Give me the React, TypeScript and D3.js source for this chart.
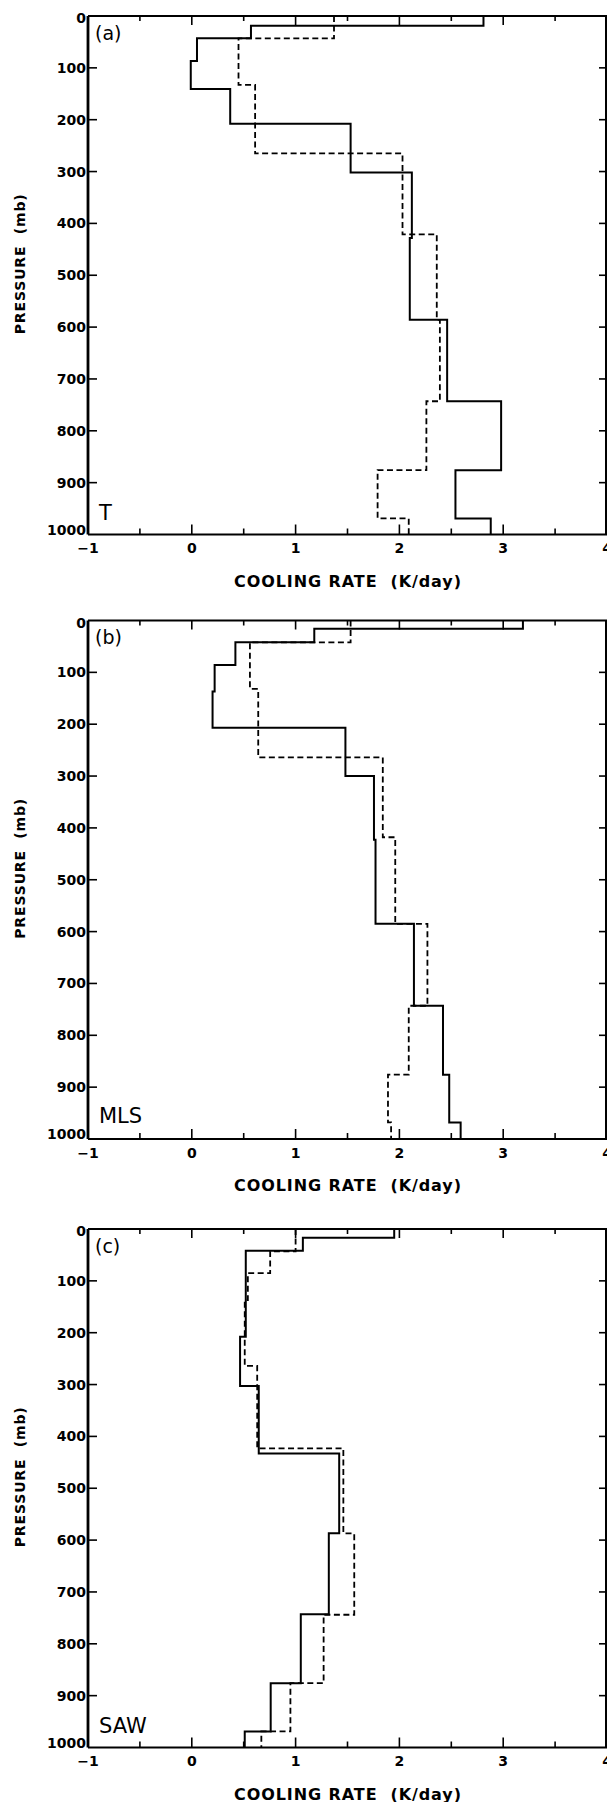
import React from "react";
import * as d3 from "d3";

// ---- Data (pressure layer boundaries in mb, cooling rate in K/day per layer) ----
const panelNames = ["(a)", "(b)", "(c)"];
const profileNames = ["T", "MLS", "SAW"];

const levelsA_solid = [0, 19, 43, 87, 141, 208, 302, 428, 586, 743, 876, 969, 1000];
const coolA_solid = [2.81, 0.57, 0.05, -0.01, 0.37, 1.53, 2.12, 2.1, 2.46, 2.98, 2.54, 2.88];
const levelsA_dashed = [0, 43, 133, 265, 421, 586, 743, 876, 969, 1000];
const coolA_dashed = [1.37, 0.45, 0.61, 2.03, 2.36, 2.39, 2.26, 1.79, 2.09];

const levelsB_solid = [0, 16, 42, 86, 137, 207, 300, 423, 585, 743, 876, 968, 1000];
const coolB_solid = [3.19, 1.18, 0.42, 0.22, 0.2, 1.48, 1.755, 1.77, 2.14, 2.42, 2.48, 2.59];
const levelsB_dashed = [0, 42, 132, 264, 418, 585, 743, 876, 968, 1000];
const coolB_dashed = [1.53, 0.56, 0.64, 1.84, 1.96, 2.27, 2.09, 1.89, 1.92];

const levelsC_solid = [0, 17, 42, 208, 303, 433, 587, 743, 876, 969, 1000];
const coolC_solid = [1.95, 1.07, 0.52, 0.465, 0.645, 1.42, 1.32, 1.05, 0.76, 0.51];
const levelsC_dashed = [0, 43, 85, 137, 264, 423, 587, 744, 876, 969, 1000];
const coolC_dashed = [1.0, 0.755, 0.54, 0.51, 0.63, 1.46, 1.565, 1.27, 0.95, 0.67];

const xTickLabels = ["\u22121", "0", "1", "2", "3", "4"];
const xTickValues = [-1, 0, 1, 2, 3, 4];
const yTickValues = [0, 100, 200, 300, 400, 500, 600, 700, 800, 900, 1000];

// ---- Layout ----
const W = 607;
const H = 1802;
const X0 = 88;
const X1 = 607;
const panelTops = [16, 620.5, 1229];
const panelBottoms = [534.5, 1139, 1747.5];

const series = [
  { solid: [levelsA_solid, coolA_solid], dashed: [levelsA_dashed, coolA_dashed] },
  { solid: [levelsB_solid, coolB_solid], dashed: [levelsB_dashed, coolB_dashed] },
  { solid: [levelsC_solid, coolC_solid], dashed: [levelsC_dashed, coolC_dashed] },
];

const BOLD = "'DejaVu Sans', sans-serif";

function stepPath(levels: number[], vals: number[], x: any, y: any): string {
  const pts: [number, number][] = [];
  vals.forEach((v, i) => {
    pts.push([x(v), y(levels[i])]);
    pts.push([x(v), y(levels[i + 1])]);
  });
  return d3.line()(pts) || "";
}

function Panel({ idx }: { idx: number }) {
  const top = panelTops[idx];
  const bottom = panelBottoms[idx];
  const x = d3.scaleLinear().domain([-1, 4]).range([X0, X1]);
  const y = d3.scaleLinear().domain([0, 1000]).range([top, bottom]);
  const halfTicks = d3.range(-0.5, 4, 0.5);
  const s = series[idx];
  const midY = (top + bottom) / 2 - 11;
  const botLabelOffset = [14.5, 16, 14.5][idx];
  return (
    <g>
      {/* data */}
      <path d={stepPath(s.dashed[0], s.dashed[1], x, y)} fill="none" stroke="#000" strokeWidth={1.8} strokeDasharray="6,3.5" />
      <path d={stepPath(s.solid[0], s.solid[1], x, y)} fill="none" stroke="#000" strokeWidth={2} />
      {/* frame */}
      <line x1={X0} x2={X1} y1={top} y2={top} stroke="#000" strokeWidth={2} />
      <line x1={X0} x2={X1} y1={bottom} y2={bottom} stroke="#000" strokeWidth={2} />
      <line x1={X0} x2={X0} y1={top} y2={bottom} stroke="#000" strokeWidth={2.8} />
      <line x1={X1 - 1} x2={X1 - 1} y1={top} y2={bottom} stroke="#000" strokeWidth={2} />
      {/* x ticks */}
      {halfTicks.map((t) => {
        const major = Math.abs(t - Math.round(t)) < 1e-6;
        return (
          <g key={"xt" + t}>
            <line x1={x(t)} x2={x(t)} y1={bottom} y2={bottom - (major ? 10 : 6)} stroke="#000" strokeWidth={1.6} />
            <line x1={x(t)} x2={x(t)} y1={top} y2={top + (major ? 9 : 5)} stroke="#000" strokeWidth={1.6} />
          </g>
        );
      })}
      {/* y ticks */}
      {yTickValues.slice(1, -1).map((p) => (
        <g key={"yt" + p}>
          <line x1={X0} x2={X0 + 9} y1={y(p)} y2={y(p)} stroke="#000" strokeWidth={1.6} />
          <line x1={X1} x2={X1 - 8} y1={y(p)} y2={y(p)} stroke="#000" strokeWidth={1.6} />
        </g>
      ))}
      {/* y tick labels */}
      {yTickValues.map((p, i) => (
        <text
          key={"yl" + p}
          x={X0 - 2}
          y={y(p) + 5 + (i === 0 ? 2 : 0) - (i === yTickValues.length - 1 ? 5 : 0)}
          textAnchor="end"
          fontFamily={BOLD}
          fontWeight="bold"
          fontSize={14}
        >
          {String(p)}
        </text>
      ))}
      {/* x tick labels */}
      {xTickValues.map((v, i) => (
        <text key={"xl" + v} x={x(v)} y={bottom + 18.5} textAnchor="middle" fontFamily={BOLD} fontWeight="bold" fontSize={14}>
          {xTickLabels[i]}
        </text>
      ))}
      {/* x title */}
      <text
        x={x(1.5)}
        y={bottom + 52}
        textAnchor="middle"
        fontFamily={BOLD}
        fontWeight="bold"
        fontSize={16}
        textLength={227}
        lengthAdjust="spacing"
        xmlSpace="preserve"
      >
        {"COOLING RATE  (K/day)"}
      </text>
      {/* y title */}
      <text
        transform={`translate(25,${midY}) rotate(-90)`}
        textAnchor="middle"
        fontFamily={BOLD}
        fontWeight="bold"
        fontSize={14}
        textLength={140}
        lengthAdjust="spacing"
        xmlSpace="preserve"
      >
        {"PRESSURE  (mb)"}
      </text>
      {/* panel labels */}
      <text x={95} y={top + 23.5} fontFamily={BOLD} fontSize={19}>
        {panelNames[idx]}
      </text>
      <text x={99} y={bottom - botLabelOffset} fontFamily={BOLD} fontSize={21}>
        {profileNames[idx]}
      </text>
    </g>
  );
}

export default function App() {
  return (
    <svg
      width={W}
      height={H}
      viewBox={`0 0 ${W} ${H}`}
      style={{ position: "absolute", left: 0, top: 0, background: "#fff" }}
    >
      <rect x={0} y={0} width={W} height={H} fill="#fff" />
      {[0, 1, 2].map((i) => (
        <Panel key={i} idx={i} />
      ))}
    </svg>
  );
}
